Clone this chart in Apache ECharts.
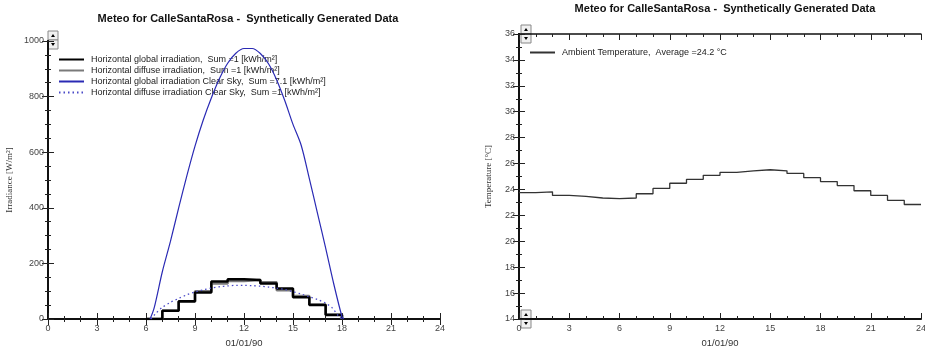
<!DOCTYPE html>
<html>
<head>
<meta charset="utf-8">
<script src="https://cdn.jsdelivr.net/npm/echarts@6/dist/echarts.min.js"></script>
<style>
  html, body { margin: 0; padding: 0; background: #fff; }
  #main { width: 925px; height: 348px; }
</style>
</head>
<body>
<div id="main"></div>
<script>
// 左图: 水平辐照 (小时阶梯)
var stepHours = [6, 7, 8, 9, 10, 11, 12, 13, 14, 15, 16, 17, 18];
var globalIrr = [0, 30, 64, 95, 135, 143, 140, 128, 110, 78, 50, 14, 0];
var diffuseIrr = [0, 30, 62, 100, 128, 137, 140, 132, 103, 83, 52, 16, 0];

// 晴空曲线
var clearHours = [6.25, 6.5, 7, 7.5, 8, 8.5, 9, 9.5, 10, 10.5, 11, 11.5, 12, 12.5, 13, 13.5, 14, 14.5, 15, 15.5, 16, 16.5, 17, 17.5, 18, 18.1];
var clearGlobal = [0, 40, 170, 280, 400, 515, 622, 715, 795, 865, 920, 956, 973, 973, 955, 918, 860, 785, 700, 625, 505, 380, 255, 125, 8, 0];
var clearDiffHours = [6.3, 6.6, 7, 7.5, 8, 8.5, 9, 9.5, 10, 10.5, 11, 11.5, 12, 12.5, 13, 13.5, 14, 14.5, 15, 15.5, 16, 16.5, 17, 17.4, 17.8, 18];
var clearDiffuse = [0, 20, 42, 60, 74, 87, 97, 105, 111, 116, 119, 121, 121, 120, 118, 115, 111, 106, 98, 90, 80, 70, 57, 40, 10, 0];

// 右图: 环境温度 (每小时)
var tempHours = [0, 1, 2, 3, 4, 5, 6, 7, 8, 9, 10, 11, 12, 13, 14, 15, 16, 17, 18, 19, 20, 21, 22, 23, 24];
var temperature = [23.75, 23.82, 23.54, 23.47, 23.34, 23.29, 23.34, 23.67, 24.08, 24.48, 24.78, 25.09, 25.32, 25.44, 25.52, 25.44, 25.24, 24.91, 24.61, 24.30, 23.90, 23.54, 23.16, 22.84, 22.84];

var titleText = 'Meteo for CalleSantaRosa -  Synthetically Generated Data';
var legendLeft = ['Horizontal global irradiation,  Sum =1 [kWh/m²]', 'Horizontal diffuse irradiation,  Sum =1 [kWh/m²]',
	'Horizontal global irradiation Clear Sky,  Sum =7.1 [kWh/m²]', 'Horizontal diffuse irradiation Clear Sky,  Sum =1 [kWh/m²]'];
var legendRight = ['Ambient Temperature,  Average =24.2 °C'];

function pairs(xs, ys) {
	return xs.map(function (x, i) { return [x, ys[i]]; });
}

var tickColor = '#222';
var labelStyle = { color: '#444', fontSize: 9, fontFamily: 'Liberation Sans, Arial, sans-serif' };

function mainX(gi, name) {
	return {
		type: 'value', gridIndex: gi, min: 0, max: 24, interval: 3,
		name: name, nameLocation: 'middle', nameGap: 18,
		nameTextStyle: { color: '#333', fontSize: 9.5, fontFamily: 'Liberation Sans, Arial' },
		axisLine: { lineStyle: { color: '#111', width: 2 } },
		axisTick: { inside: true, length: 6, lineStyle: { color: tickColor } },
		minorTick: { show: true, splitNumber: 3, length: 3, lineStyle: { color: tickColor } },
		axisLabel: Object.assign({ margin: 5, showMinLabel: true, showMaxLabel: true }, labelStyle),
		splitLine: { show: false }
	};
}
function topX(gi) {
	return {
		type: 'value', gridIndex: gi, position: 'top', min: 0, max: 24, interval: 3,
		axisLine: { lineStyle: { color: '#111', width: 1.5 } },
		axisTick: { inside: true, length: 6, lineStyle: { color: tickColor } },
		minorTick: { show: true, splitNumber: 3, length: 3, lineStyle: { color: tickColor } },
		axisLabel: { show: false }, splitLine: { show: false }
	};
}
function mainY(gi, min, max, interval, minorSplit, name, gap) {
	return {
		type: 'value', gridIndex: gi, min: min, max: max, interval: interval,
		name: name, nameLocation: 'middle', nameGap: gap, nameRotate: 90,
		nameTextStyle: { color: '#333', fontSize: 9, fontFamily: 'Liberation Serif, DejaVu Serif, serif' },
		axisLine: { lineStyle: { color: '#111', width: 2 } },
		axisTick: { inside: true, length: 6, lineStyle: { color: tickColor } },
		minorTick: { show: true, splitNumber: minorSplit, length: 3, lineStyle: { color: tickColor } },
		axisLabel: Object.assign({ margin: 4, formatter: function (v) { return String(v); } }, labelStyle),
		splitLine: { show: false }
	};
}
function rightY(gi, min, max, interval, minorSplit) {
	return {
		type: 'value', gridIndex: gi, position: 'right', min: min, max: max, interval: interval,
		axisLine: { show: true, lineStyle: { color: '#111', width: 2 } },
		axisTick: { show: true, inside: true, length: 6, lineStyle: { color: tickColor } },
		minorTick: { show: true, splitNumber: minorSplit, length: 3, lineStyle: { color: tickColor } },
		axisLabel: { show: false }, splitLine: { show: false }
	};
}

// 滚动按钮
function scrollBtn(x, y, up) {
	var pts = up ? [[x + 3, y + 6], [x + 7, y + 6], [x + 5, y + 3]] : [[x + 3, y + 3], [x + 7, y + 3], [x + 5, y + 6]];
	return {
		type: 'group', z: 100, children: [
			{ type: 'rect', shape: { x: x, y: y, width: 10, height: 9 }, style: { fill: '#f0f0f0', stroke: '#888', lineWidth: 1 } },
			{ type: 'polygon', shape: { points: pts }, style: { fill: '#000' } }
		]
	};
}

var legendText = { fontSize: 9, color: '#222', fontFamily: 'Liberation Sans, Arial', padding: [0, 0, 0, 2] };

var myChart = echarts.init(document.getElementById('main'));
var option = {
	animation: false,
	backgroundColor: '#fff',
	title: [
		{ text: titleText, left: 243, top: 8, textAlign: 'center',
		  textStyle: { fontSize: 11, fontWeight: 'bold', color: '#111', fontFamily: 'Liberation Sans, Arial' } },
		{ text: titleText, left: 720, top: -2, textAlign: 'center',
		  textStyle: { fontSize: 11, fontWeight: 'bold', color: '#111', fontFamily: 'Liberation Sans, Arial' } }
	],
	legend: [
		{
			orient: 'vertical', left: 53, top: 50, itemWidth: 25, itemHeight: 10, itemGap: 2,
			itemStyle: { opacity: 0, borderWidth: 0 },
			textStyle: legendText,
			data: legendLeft
		},
		{
			orient: 'vertical', left: 524, top: 43, itemWidth: 25, itemHeight: 10,
			itemStyle: { opacity: 0, borderWidth: 0 },
			textStyle: legendText,
			data: legendRight
		}
	],
	grid: [
		{ left: 48, right: 485, top: 41, bottom: 29, outerBoundsMode: 'none' },
		{ left: 519, right: 4, top: 34, bottom: 29, outerBoundsMode: 'none' }
	],
	xAxis: [mainX(0, '01/01/90'), topX(0), mainX(1, '01/01/90'), topX(1)],
	yAxis: [
		mainY(0, 0, 1000, 200, 4, 'Irradiance [W/m²]', 34), rightY(0, 0, 1000, 200, 4),
		mainY(1, 14, 36, 2, 2, 'Temperature [°C]', 26), rightY(1, 14, 36, 2, 2)
	],
	series: [
		{
			name: legendLeft[1], type: 'line', step: 'end',
			xAxisIndex: 0, yAxisIndex: 0, symbol: 'none', z: 2,
			lineStyle: { color: '#7a7a7a', width: 2.5 }, itemStyle: { color: '#7a7a7a' },
			data: pairs(stepHours, diffuseIrr)
		},
		{
			name: legendLeft[0], type: 'line', step: 'end',
			xAxisIndex: 0, yAxisIndex: 0, symbol: 'none', z: 3,
			lineStyle: { color: '#000', width: 2.5 }, itemStyle: { color: '#000' },
			data: pairs(stepHours, globalIrr)
		},
		{
			name: legendLeft[2], type: 'line', smooth: 0.3,
			xAxisIndex: 0, yAxisIndex: 0, symbol: 'none', z: 4,
			lineStyle: { color: '#2a2ab4', width: 1.2 }, itemStyle: { color: '#2a2ab4' },
			data: pairs(clearHours, clearGlobal)
		},
		{
			name: legendLeft[3], type: 'line', smooth: 0.3,
			xAxisIndex: 0, yAxisIndex: 0, symbol: 'none', z: 4,
			lineStyle: { color: '#4a4ac8', width: 1.3, type: [1.5, 3] }, itemStyle: { color: '#4a4ac8' },
			data: pairs(clearDiffHours, clearDiffuse)
		},
		{
			name: legendRight[0], type: 'line', step: 'end',
			xAxisIndex: 2, yAxisIndex: 2, symbol: 'none',
			lineStyle: { color: '#333', width: 1.3 }, itemStyle: { color: '#333' },
			data: pairs(tempHours, temperature)
		}
	],
	graphic: [
		scrollBtn(48, 31, true), scrollBtn(48, 40, false),
		scrollBtn(521, 25, true), scrollBtn(521, 34, false),
		scrollBtn(521, 310, true), scrollBtn(521, 319, false)
	]
};
myChart.setOption(option);
</script>
</body>
</html>
